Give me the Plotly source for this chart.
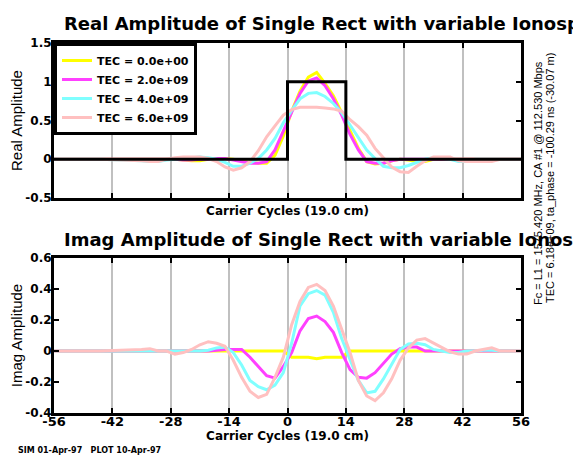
import plotly.graph_objects as go

# 载波周期 (sample positions, carrier cycles)
X = [-56, -45, -35, -33, -31, -29, -27, -25, -23, -21, -19, -17, -15, -13, -11,
     -9, -7, -5, -3, -1, 1, 3, 5, 7, 9, 11, 13, 15, 17, 19, 21, 23, 25, 27, 29,
     31, 33, 35, 37, 39, 41, 43, 45, 47, 49, 51, 56]

TEC_LABELS = ['TEC = 0.0e+00', 'TEC = 2.0e+09', 'TEC = 4.0e+09', 'TEC = 6.0e+09']
COLORS = ['#ffff00', '#ff40ff', '#80ffff', '#ffc0c0']

# ideal rect (reference)
RECT_X = [-56, 0, 0, 14, 14, 56]
RECT_Y = [0, 0, 1, 1, 0, 0]

# real part, one list per TEC
REAL_0 = [0, 0, 0, 0, 0, 0, 0,
          -0.01, -0.02, -0.02, 0, 0.01, 0.01, 0, -0.02, -0.04, -0.05, -0.05, 0.05, 0.3,
          0.62, 0.88, 1.06, 1.12, 0.98, 0.82, 0.6, 0.36, 0.14, -0.03, -0.06, -0.05, -0.02,
          0, -0.01, -0.03, -0.03, 0, 0, 0, 0, 0, 0, 0, 0, 0,
          0]
REAL_2 = [0, 0, 0, 0, 0, 0, 0,
          -0.01, -0.01, 0, 0, 0.01, 0.01, -0.01, -0.03, -0.05, -0.05, -0.03, 0.12, 0.36,
          0.6, 0.85, 1.01, 1.05, 0.95, 0.78, 0.57, 0.32, 0.12, -0.03, -0.05, -0.05, -0.02,
          0, 0, 0, 0, 0, 0, 0, 0, 0, 0, 0, 0, 0,
          0]
REAL_4 = [0, 0, -0.02, -0.03, -0.03, -0.01, 0,
          0.01, 0.02, 0.03, 0.02, 0, -0.04, -0.09, -0.09, -0.05, 0.01, 0.12, 0.27, 0.47,
          0.63, 0.78, 0.85, 0.86, 0.81, 0.72, 0.6, 0.44, 0.28, 0.12, 0.01, -0.09, -0.11,
          -0.11, -0.08, -0.04, 0, 0.02, 0.01, 0, -0.03, -0.03, 0, 0, 0, 0,
          0]
REAL_6 = [0, 0, -0.02, -0.03, -0.03, 0, 0.02,
          0.03, 0.03, 0.03, 0.01, -0.03, -0.1, -0.14, -0.11, -0.03, 0.11, 0.29, 0.43, 0.57,
          0.64, 0.67, 0.67, 0.67, 0.66, 0.65, 0.62, 0.51, 0.42, 0.31, 0.14, 0.02, -0.1,
          -0.16, -0.17, -0.09, -0.02, 0.03, 0.03, 0.03, -0.02, -0.03, -0.03, -0.03, -0.03, 0,
          0]

# imaginary part
IMAG_0 = [0, 0, 0, 0, 0, 0, 0,
          0, 0, 0, 0, 0, 0, 0, 0, 0, 0, 0, 0, 0,
          -0.04, -0.04, -0.04, -0.05, -0.04, -0.04, -0.04, 0, 0, 0, 0, 0, 0,
          0, 0, 0, 0, 0, 0, 0, 0, 0, 0, 0, 0, 0,
          0]
IMAG_2 = [0, 0, 0, 0, 0, 0, 0,
          0, 0, 0, 0, 0.005, 0.01, 0.01, 0.01, -0.04, -0.1, -0.16, -0.175, -0.1,
          -0.01, 0.13, 0.21, 0.225, 0.19, 0.12, -0.01, -0.12, -0.17, -0.175, -0.14, -0.08, -0.02,
          0.015, 0.025, 0.025, 0, 0, 0, 0, 0, 0, 0, 0, 0, 0,
          0]
IMAG_4 = [0, 0, 0, 0, 0, 0, 0,
          0, 0, 0, 0.005, 0.02, 0.025, -0.01, -0.09, -0.19, -0.23, -0.25, -0.22, -0.14,
          0.05, 0.29, 0.37, 0.39, 0.36, 0.25, 0.08, -0.06, -0.19, -0.27, -0.26, -0.18, -0.08,
          0.01, 0.045, 0.05, 0.04, 0.01, 0, -0.01, -0.01, 0, 0, 0.005, 0.005, 0,
          0]
IMAG_6 = [0, 0, 0.01, 0.015, 0, 0, -0.02,
          -0.01, 0.01, 0.04, 0.06, 0.05, 0.03, -0.06, -0.17, -0.26, -0.3, -0.28, -0.17, -0.04,
          0.17, 0.32, 0.41, 0.43, 0.39, 0.29, 0.14, -0.01, -0.19, -0.29, -0.32, -0.27, -0.18,
          -0.06, 0.02, 0.07, 0.08, 0.05, 0.02, -0.005, -0.02, -0.02, 0, 0.01, 0.02, 0,
          0]

X_TICKS = [-56, -42, -28, -14, 0, 14, 28, 42, 56]
X_TICKTEXT = ['-56', '-42', '-28', '-14', '0', '14', '28', '42', '56']
Y1_TICKS = [-0.5, 0, 0.5, 1, 1.5]
Y1_TICKTEXT = ['-0.5', '0', '0.5', '1', '1.5']
Y2_TICKS = [-0.4, -0.2, 0, 0.2, 0.4, 0.6]
Y2_TICKTEXT = ['-0.4', '-0.2', '0', '0.2', '0.4', '0.6']

BOLD = dict(family='DejaVu Sans', weight='bold', color='black')
PLAIN = dict(family='Liberation Sans', color='black')

fig = go.Figure()

for name, color, yr in zip(TEC_LABELS, COLORS, [REAL_0, REAL_2, REAL_4, REAL_6]):
    fig.add_trace(go.Scatter(x=X, y=yr, mode='lines', name=name,
                             line=dict(color=color, width=3),
                             xaxis='x', yaxis='y'))

fig.add_trace(go.Scatter(x=RECT_X, y=RECT_Y, mode='lines', showlegend=False,
                         line=dict(color='black', width=3),
                         xaxis='x', yaxis='y'))

for name, color, yi in zip(TEC_LABELS, COLORS, [IMAG_0, IMAG_2, IMAG_4, IMAG_6]):
    fig.add_trace(go.Scatter(x=X, y=yi, mode='lines', name=name, showlegend=False,
                             line=dict(color=color, width=3),
                             xaxis='x2', yaxis='y2'))

axis_style = dict(showline=True, linecolor='black', linewidth=3, mirror='ticks',
                  ticks='inside', ticklen=5, tickwidth=2, tickcolor='black',
                  zeroline=False, automargin=False)

x_style = dict(axis_style, range=[-56, 56], tickvals=X_TICKS, ticktext=X_TICKTEXT,
               showgrid=True, gridcolor='#c0c0c0', gridwidth=2,
               tickfont=dict(BOLD, size=13), ticklabelstandoff=-6)

# the page body adds an 8px offset, so the figure is 8px smaller on each side
fig.update_layout(
    width=573, height=450,
    paper_bgcolor='white', plot_bgcolor='white',
    margin=dict(l=46, r=60, t=35, b=45),
    xaxis=dict(x_style, anchor='y', showticklabels=False,
               title=dict(text='Carrier Cycles (19.0 cm)', font=dict(BOLD, size=12), standoff=7)),
    xaxis2=dict(x_style, anchor='y2',
                title=dict(text='Carrier Cycles (19.0 cm)', font=dict(BOLD, size=12), standoff=0)),
    yaxis=dict(axis_style, domain=[0.581, 1], range=[-0.5, 1.5],
               tickvals=Y1_TICKS, ticktext=Y1_TICKTEXT, showgrid=False,
               tickfont=dict(BOLD, size=12), ticklabelstandoff=-3,
               title=dict(text='Real Amplitude', font=dict(PLAIN, size=15), standoff=0)),
    yaxis2=dict(axis_style, domain=[0, 0.419], range=[-0.4, 0.6],
                tickvals=Y2_TICKS, ticktext=Y2_TICKTEXT, showgrid=False,
                tickfont=dict(BOLD, size=12), ticklabelstandoff=-3,
                title=dict(text='Imag Amplitude', font=dict(PLAIN, size=15), standoff=0)),
    legend=dict(x=0, y=1, xanchor='left', yanchor='top',
                bgcolor='white', bordercolor='black', borderwidth=3,
                font=dict(BOLD, size=11), tracegroupgap=0, itemwidth=30),
    annotations=[
        dict(text='Real Amplitude of Single Rect with variable Ionosphere',
             xref='paper', yref='paper', x=0.017, y=1.054, xanchor='left', yanchor='middle',
             showarrow=False, font=dict(BOLD, size=18)),
        dict(text='Imag Amplitude of Single Rect with variable Ionosphere',
             xref='paper', yref='paper', x=0.017, y=0.4676, xanchor='left', yanchor='middle',
             showarrow=False, font=dict(BOLD, size=18)),
        dict(text='Fc = L1 = 1575.420 MHz, CA #1 @ 112.530 Mbps',
             xref='paper', yref='paper', x=1.0364, y=0.6216, xanchor='center', yanchor='middle',
             textangle=-90, showarrow=False, font=dict(PLAIN, size=11)),
        dict(text='TEC = 6.18e+09, ta_phase = -100.29 ns (-30.07 m)',
             xref='paper', yref='paper', x=1.062, y=0.635, xanchor='center', yanchor='middle',
             textangle=-90, showarrow=False, font=dict(PLAIN, size=11)),
        dict(text='SIM 01-Apr-97   PLOT 10-Apr-97',
             xref='paper', yref='paper', x=-0.0814, y=-0.1, xanchor='left', yanchor='middle',
             showarrow=False, font=dict(BOLD, size=8)),
    ],
)

fig.write_html("out.html")
